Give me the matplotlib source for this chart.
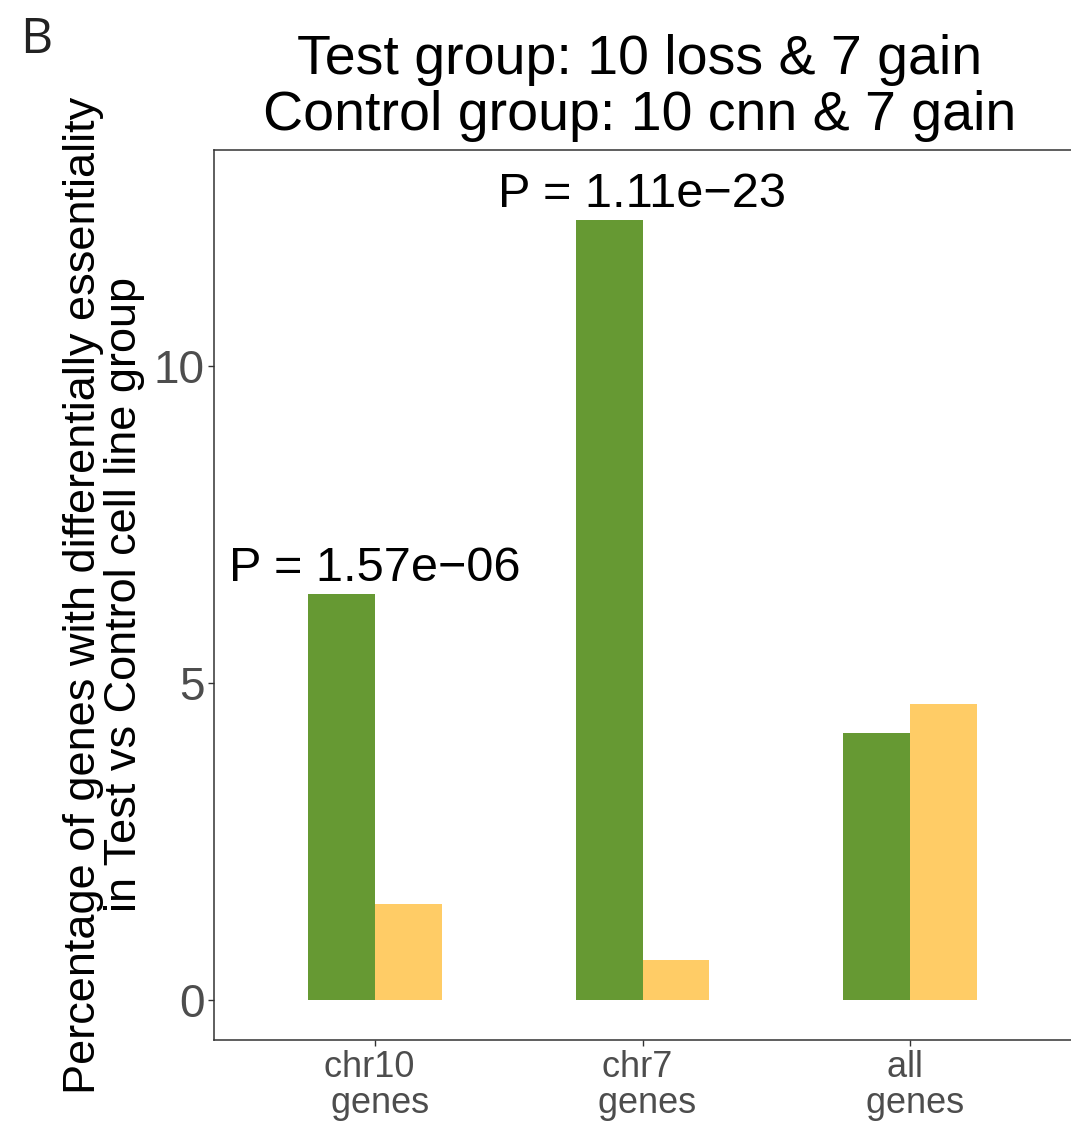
import matplotlib
matplotlib.use("Agg")
import matplotlib.pyplot as plt
import numpy as np

plt.rcParams['font.family'] = ['Liberation Sans', 'DejaVu Sans']

categories = ["chr10 \n genes", "chr7 \n genes", "all \n genes"]
test_pct = [6.40, 12.30, 4.21]
control_pct = [1.52, 0.63, 4.67]
p_labels = ["P = 1.57e\u221206", "P = 1.11e\u221223"]
y_ticks = [0, 5, 10]

green = "#669933"
yellow = "#FFCC66"

fig = plt.figure(figsize=(10.71, 11.21), dpi=100)
W, H = 1071, 1121
ax = fig.add_axes([214 / W, 1 - 1040 / H, (1071 - 214) / W, (1040 - 150) / H])

x = np.arange(1, len(categories) + 1)
bw = 0.25
ax.bar(x - bw / 2, test_pct, width=bw, color=green, linewidth=0)
ax.bar(x + bw / 2, control_pct, width=bw, color=yellow, linewidth=0)

for i, lab in enumerate(p_labels):
    ax.text(x[i], test_pct[i] + 0.2, lab, ha="center", va="baseline",
            fontsize=35, color="black")

ax.set_xlim(0.4, 3.6)
ax.set_ylim(-0.63, 13.4)
ax.set_xticks(x)
ax.set_xticklabels(categories, fontsize=26, color="#4d4d4d", linespacing=1.05)
ax.set_yticks(y_ticks)
ax.set_yticklabels([str(v) for v in y_ticks], fontsize=33, color="#4d4d4d")
ax.tick_params(axis="both", length=4, width=1, color="#333333")
ax.tick_params(axis="y", pad=3)
ax.tick_params(axis="x", pad=3)

for s in ["left", "bottom", "top"]:
    ax.spines[s].set_color("#333333")
    ax.spines[s].set_linewidth(1.1)
ax.spines["right"].set_visible(False)

ax.set_ylabel("Percentage of genes with differentially essentiality\nin Test vs Control cell line group",
              fontsize=32.5, color="black", linespacing=1.0, labelpad=6)

fig.text(640 / W, 1 - 88 / H, "Test group: 10 loss & 7 gain\nControl group: 10 cnn & 7 gain",
         ha="center", va="center", fontsize=40, linespacing=1.1)

fig.text(20 / W, 1 - 40 / H, "B", fontsize=36, family=["Open Sans", "DejaVu Sans"],
         ha="left", va="center", color="#222222")

fig.savefig("out.png", dpi=100)
